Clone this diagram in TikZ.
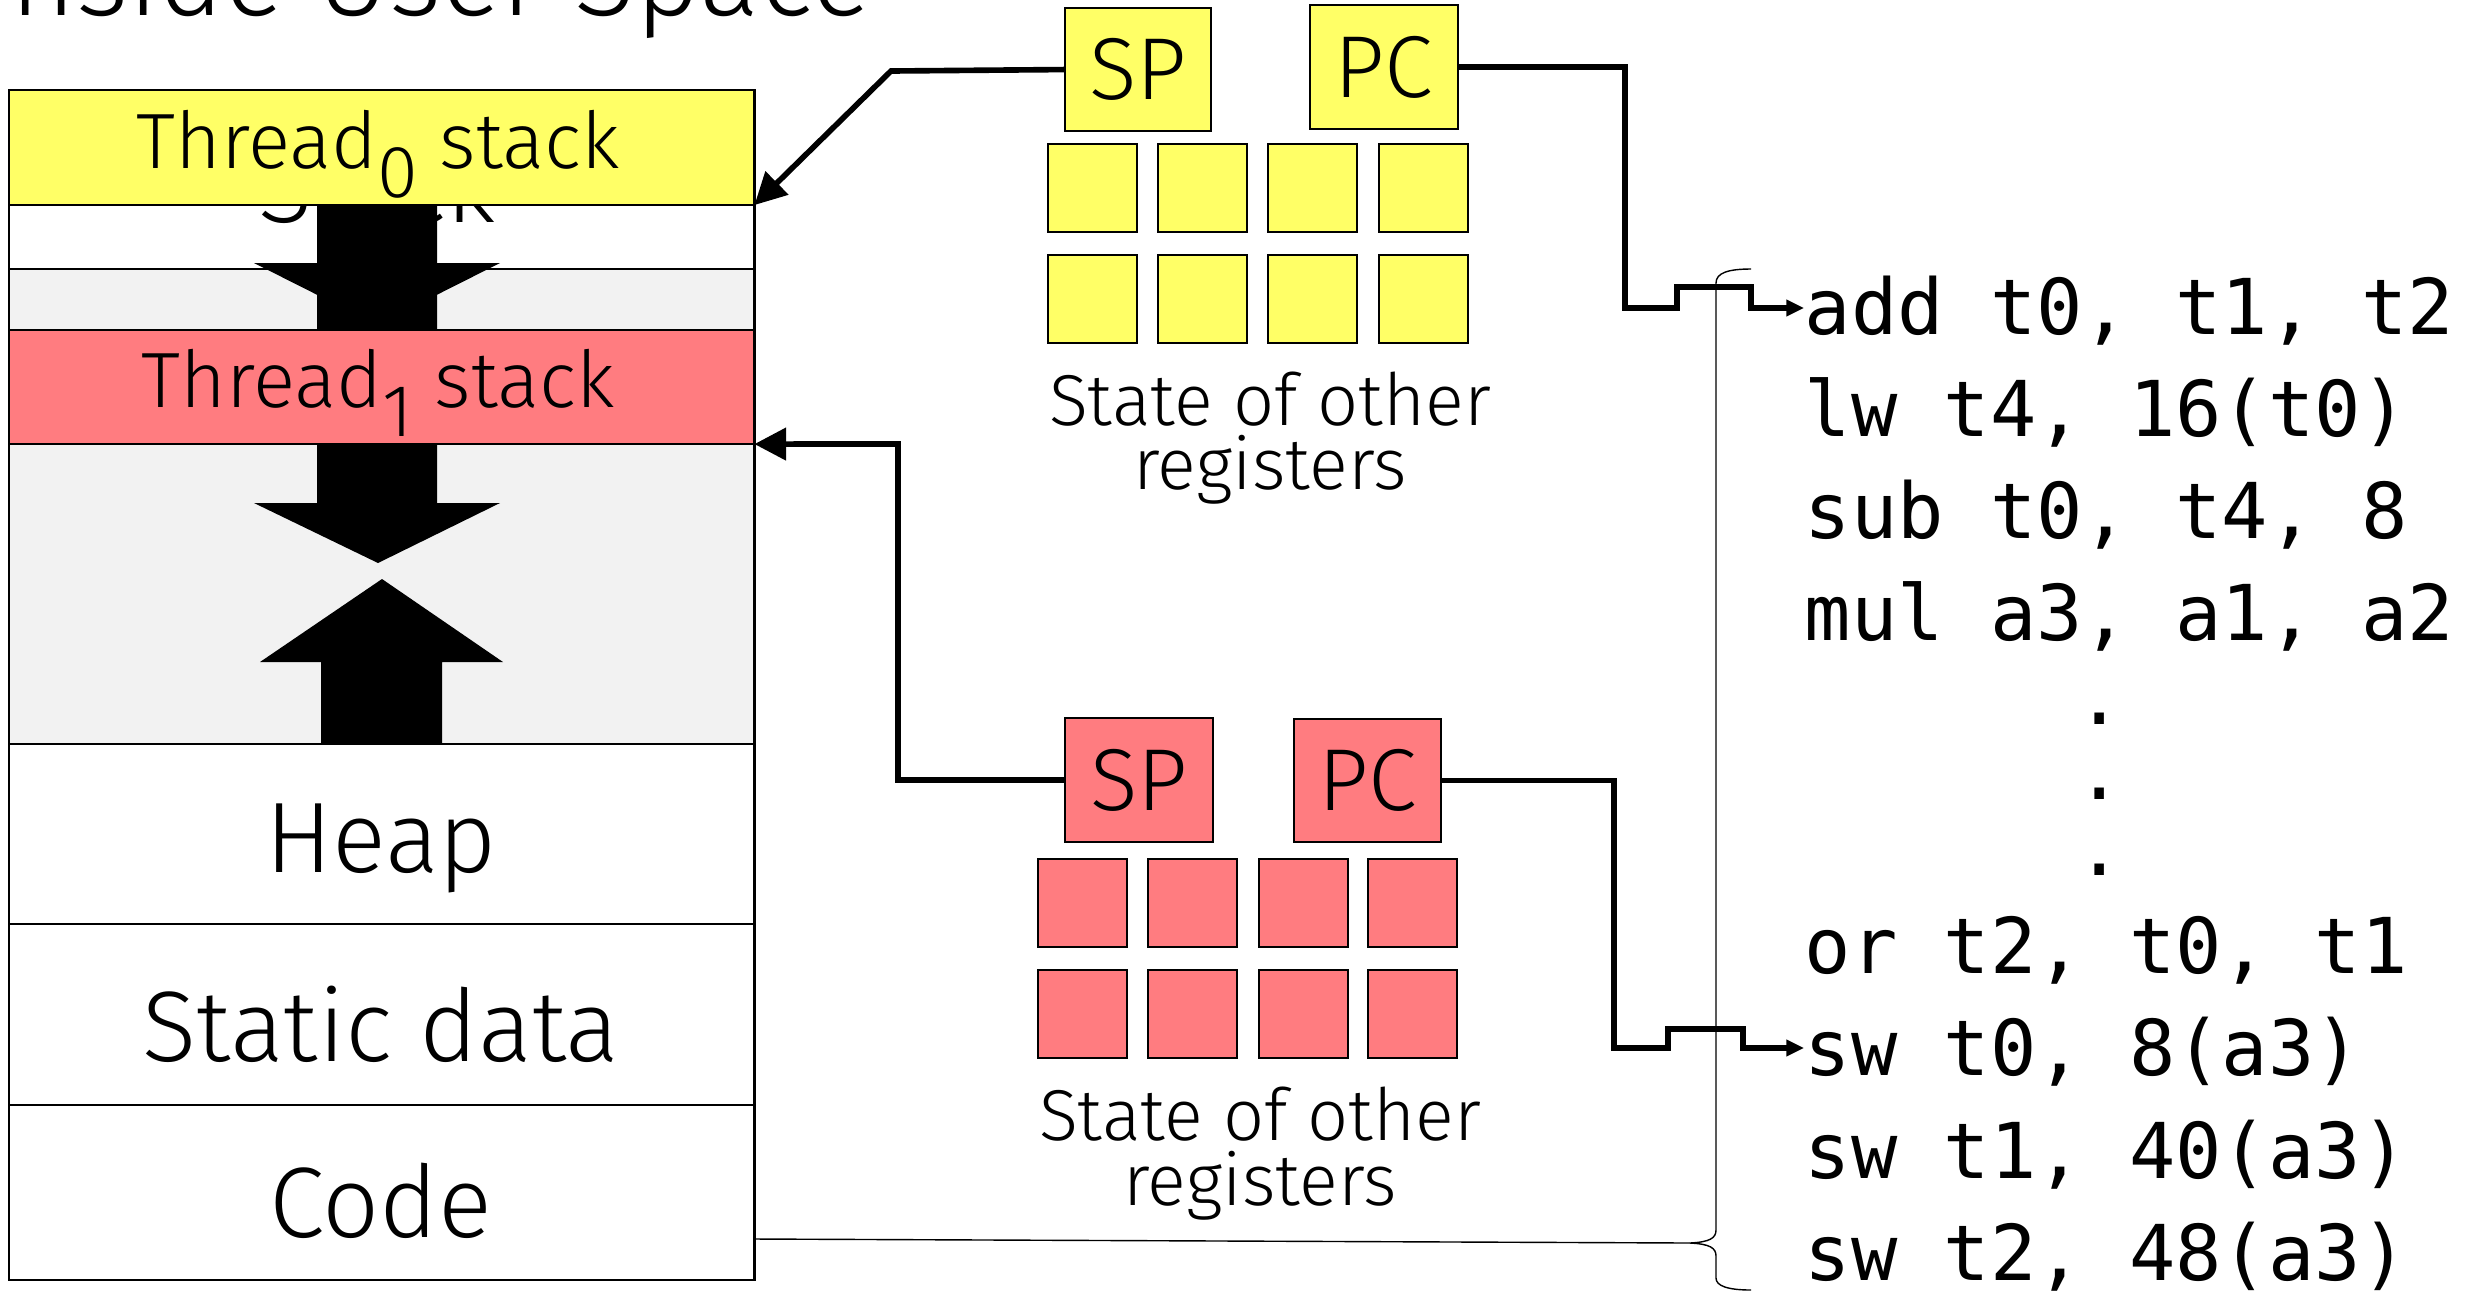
\documentclass[tikz,border=0pt]{standalone}
\usepackage{fontspec}
\setmainfont{Fira Sans}[UprightFont={* Light}]
\newfontfamily\codefont{DejaVu Sans Mono}
\usetikzlibrary{arrows.meta}
\definecolor{yel}{HTML}{FFFF66}
\definecolor{pnk}{HTML}{FF7C80}
\definecolor{lgray}{HTML}{F2F2F2}
\newcommand{\lowsub}[1]{\raisebox{-0.29cm}{\fontsize{21}{21}\selectfont #1}}
\begin{document}
\begin{tikzpicture}[x=0.01cm,y=-0.01cm,
  band/.style={draw=black, line width=0.7pt, minimum width=7.45cm, anchor=north west, inner sep=0pt, outer sep=0pt},
  reg/.style={draw=black, line width=0.55pt, anchor=north west, inner sep=0pt, outer sep=0pt,
              font=\fontsize{25}{25}\selectfont},
  cell/.style={reg, minimum width=0.89cm, minimum height=0.88cm},
  thr/.style={anchor=base, inner sep=0pt, font=\fontsize{22.3}{22.3}\selectfont},
  seg/.style={anchor=base, inner sep=0pt, font=\fontsize{28.5}{28.5}\selectfont},
  state/.style={anchor=base, inner sep=0pt, font=\fontsize{20.5}{20.5}\selectfont},
  code/.style={anchor=base west, inner sep=0pt, font=\codefont\fontsize{21.9}{21.9}\selectfont},
  codedot/.style={anchor=center, inner sep=0pt, font=\codefont\fontsize{21.9}{21.9}\selectfont},
  link/.style={line width=1.6pt, line join=miter},
  bigtip/.style={-{Triangle[length=9pt,width=9pt]}},
  smalltip/.style={-{Triangle[length=5pt,width=4.5pt]}},
  brace/.style={line width=0.4pt}
]
\useasboundingbox (0,0) rectangle (2478,1296);

% heading, cut by the top edge
\node[anchor=base east, inner sep=0pt, font=\fontsize{32}{32}\selectfont] (title) at (872,15) {Inside User Space};

% address space segments
\node[band, fill=white, minimum height=0.64cm] (sband) at (9,205) {};
\node[band, fill=lgray, minimum height=0.61cm] (gap0) at (9,269) {};
\node[band, fill=lgray, minimum height=3.00cm] (gap1) at (9,444) {};
\node[band, fill=white, minimum height=1.80cm] (heap) at (9,744) {};
\node[band, fill=white, minimum height=1.81cm] (static) at (9,924) {};
\node[band, fill=white, minimum height=1.75cm] (code) at (9,1105) {};
\node[seg] (stacklbl) at (377,222) {Stack};

% growth arrows
\fill (317,200) -- (437,200) -- (437,263) -- (500,263) -- (377,325) -- (254,263) -- (317,263) -- cycle;
\fill (317,295) -- (437,295) -- (437,503) -- (500,503) -- (378,563) -- (254,503) -- (317,503) -- cycle;
\fill (321,744) -- (321,662) -- (260,662) -- (382,579) -- (503,662) -- (442,662) -- (442,744) -- cycle;

% per-thread stacks
\node[band, fill=yel, minimum height=1.15cm] (t0) at (9,90) {};
\node[band, fill=pnk, minimum height=1.14cm] (t1) at (9,330) {};
\node[thr] (t0lbl) at (378,168) {Thread\lowsub{0} stack};
\node[thr] (t1lbl) at (378,407) {Thread\lowsub{1} stack};

\node[seg] (heaplbl) at (381,872) {Heap};
\node[seg] (staticlbl) at (381,1061) {Static data};
\node[seg] (codelbl) at (381,1237) {Code};

% register file of thread 0
\node[reg, fill=yel, minimum width=1.46cm, minimum height=1.23cm] (sp0) at (1065,8) {SP};
\node[reg, fill=yel, minimum width=1.48cm, minimum height=1.24cm] (pc0) at (1310,5) {PC};
\foreach \c/\x in {1/1048,2/1158,3/1268,4/1379}{
  \node[cell, fill=yel] (r0a\c) at (\x,144) {};
  \node[cell, fill=yel] (r0b\c) at (\x,255) {};
}
\node[state] (s0a) at (1270,425) {State of other};
\node[state] (s0b) at (1270,489) {registers};

% register file of thread 1
\node[reg, fill=pnk, minimum width=1.48cm, minimum height=1.24cm] (sp1) at (1065,718) {SP};
\node[reg, fill=pnk, minimum width=1.47cm, minimum height=1.23cm] (pc1) at (1294,719) {PC};
\foreach \c/\x in {1/1038,2/1148,3/1259,4/1368}{
  \node[cell, fill=pnk] (r1a\c) at (\x,859) {};
  \node[cell, fill=pnk] (r1b\c) at (\x,970) {};
}
\node[state] (s1a) at (1260,1140) {State of other};
\node[state] (s1b) at (1260,1205) {registers};

% program text
\node[code] (add) at (1804,334) {add t0, t1, t2};
\node[code] (lw) at (1804,436) {lw t4, 16(t0)};
\node[code] (sub) at (1804,538) {sub t0, t4, 8};
\node[code] (mul) at (1804,640) {mul a3, a1, a2};
\node[codedot] (d1) at (2100,719) {.};
\node[codedot] (d2) at (2100,794) {.};
\node[codedot] (d3) at (2100,870) {.};
\node[code] (or) at (1804,973) {or t2, t0, t1};
\node[code] (sw0) at (1804,1075) {sw t0, 8(a3)};
\node[code] (sw1) at (1804,1178) {sw t1, 40(a3)};
\node[code] (sw2) at (1804,1280) {sw t2, 48(a3)};

% brace grouping the program text, tied to the code segment
\coordinate (btip) at (1690,1243);
\draw[brace] (1751,269) .. controls (1728,269) and (1716,273) .. (1716,283)
  -- (1716,1230) .. controls (1716,1238) and (1710,1242) .. (btip)
  .. controls (1710,1244) and (1716,1248) .. (1716,1256)
  -- (1716,1278) .. controls (1716,1286) and (1728,1290) .. (1751,1290);
\draw[brace] (code.east |- 0,1239) -- (btip);

% stack pointers
\draw[link, bigtip] (sp0.west) -- (891,71) -- (t0.south east);
\draw[link, bigtip] (sp1.west) -| (898,444) -- (t1.south east);

% program counters, hopping over the brace
\draw[link, smalltip] (pc0.east) -| (1625,308) -- (1677,308) -- (1677,287) -- (1751,287) -- (1751,308) -- (add.west |- 0,308);
\draw[link, smalltip] (pc1.east) -| (1614,1048) -- (1668,1048) -- (1668,1029) -- (1743,1029) -- (1743,1048) -- (sw0.west |- 0,1048);
\end{tikzpicture}
\end{document}
